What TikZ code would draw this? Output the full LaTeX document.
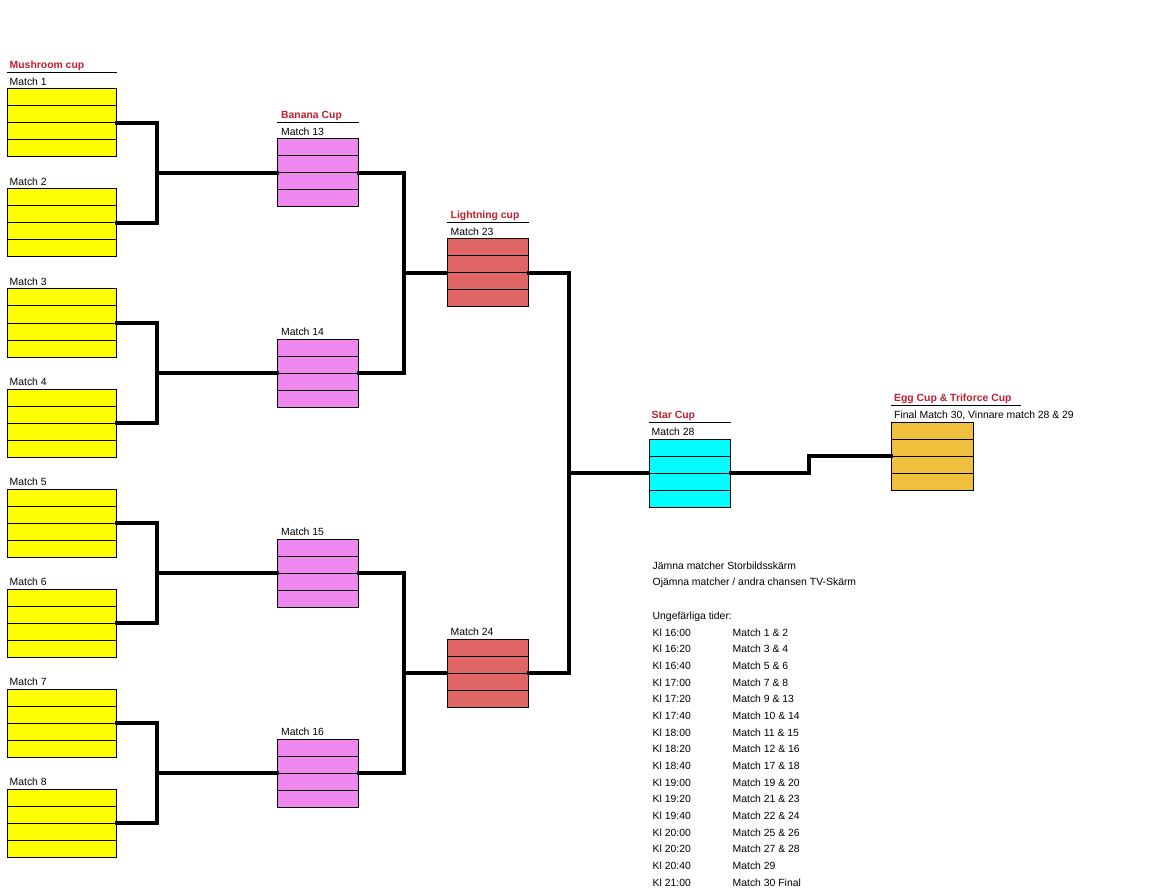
\documentclass[tikz,border=0pt]{standalone}
\usepackage{fontspec}
\setmainfont{Liberation Sans}
\usetikzlibrary{calc}
\definecolor{cupyellow}{HTML}{FFFF00}
\definecolor{cuppink}{HTML}{EE88EE}
\definecolor{cupred}{HTML}{E06666}
\definecolor{cupcyan}{HTML}{00FFFF}
\definecolor{cupgold}{HTML}{F0C03C}
\definecolor{titlered}{HTML}{C41E2E}
\tikzset{
  rows/.style={path picture={
    \foreach \f in {0.25,0.5,0.75}{
      \draw[line width=1pt] ($(path picture bounding box.north west)!\f!(path picture bounding box.south west)$) --
        ($(path picture bounding box.north east)!\f!(path picture bounding box.south east)$);}}},
  matchbox/.style={draw=black, line width=1pt, inner sep=0pt, minimum height=68pt, rows},
  ybox/.style={matchbox, fill=cupyellow, minimum width=109pt},
  pbox/.style={matchbox, fill=cuppink, minimum width=81pt},
  rbox/.style={matchbox, fill=cupred, minimum width=81pt},
  cbox/.style={matchbox, fill=cupcyan, minimum width=81pt},
  gbox/.style={matchbox, fill=cupgold, minimum width=82pt},
  conn/.style={line width=3.6pt, line cap=rect},
  hline/.style={line width=1pt},
  cuptitle/.style={anchor=base west, inner sep=0pt, text=titlered, font=\fontsize{10.4}{12}\selectfont\bfseries},
  mlabel/.style={anchor=base west, inner sep=0pt, font=\fontsize{10.4}{12}\selectfont},
  sched/.style={anchor=base west, inner sep=0pt, font=\fontsize{10.4}{12}\selectfont},
}
\begin{document}
\begin{tikzpicture}[x=1pt,y=-1pt]
\useasboundingbox[fill=white] (0,0) rectangle (1152,896);

% first round (yellow)
\foreach \k in {1,...,8}{
  \node[ybox] (m\k) at (61.5,{123+100*(\k-1)}) {};
  \node[mlabel] (l\k) at ([xshift=3pt,yshift=3pt]m\k.north west) {Match \k};
}
% second round (pink)
\foreach \k/\i in {13/0,14/1,15/2,16/3}{
  \node[pbox] (m\k) at (318,{173+200*\i}) {};
  \node[mlabel] (l\k) at ([xshift=4pt,yshift=3pt]m\k.north west) {Match \k};
}
% third round (red)
\node[rbox] (m23) at (487.5,273) {};
\node[mlabel] (l23) at ([xshift=4pt,yshift=3pt]m23.north west) {Match 23};
\node[rbox] (m24) at (487.5,673) {};
\node[mlabel] (l24) at ([xshift=4pt,yshift=3pt]m24.north west) {Match 24};
% star cup
\node[cbox] (m28) at (689.5,473) {};
\node[mlabel] (l28) at ([xshift=3pt,yshift=3pt]m28.north west) {Match 28};
% final
\node[gbox] (m30) at (932.5,456) {};
\node[mlabel] (l30) at ([xshift=3pt,yshift=3pt]m30.north west) {Final Match 30, Vinnare match 28 \& 29};

% cup headers
\draw[hline] ([yshift=16pt]m1.north west) -- ([yshift=16pt]m1.north east);
\node[cuptitle] (t1) at ([xshift=3pt,yshift=20pt]m1.north west) {Mushroom cup};
\draw[hline] ([yshift=16pt]m13.north west) -- ([yshift=16pt]m13.north east);
\node[cuptitle] (t2) at ([xshift=4pt,yshift=20pt]m13.north west) {Banana Cup};
\draw[hline] ([yshift=16pt]m23.north west) -- ([yshift=16pt]m23.north east);
\node[cuptitle] (t3) at ([xshift=4pt,yshift=20pt]m23.north west) {Lightning cup};
\draw[hline] ([yshift=16pt]m28.north west) -- ([yshift=16pt]m28.north east);
\node[cuptitle] (t4) at ([xshift=3pt,yshift=20pt]m28.north west) {Star Cup};
\draw[hline] ([yshift=16pt]m30.north west) -- ([xshift=47pt,yshift=16pt]m30.north east);
\node[cuptitle] (t5) at ([xshift=3pt,yshift=20pt]m30.north west) {Egg Cup \& Triforce Cup};

% connectors round 1 -> 2
\foreach \a/\b/\c/\y in {1/2/13/173, 3/4/14/373, 5/6/15/573, 7/8/16/773}{
  \coordinate (j\c) at (157,\y);
  \draw[conn] (m\a.east) -| (j\c) |- (m\b.east);
  \draw[conn] (j\c) -- (m\c.west);
}
% round 2 -> 3
\coordinate (j23) at (404,273);
\draw[conn] (m13.east) -| (j23) |- (m14.east);
\draw[conn] (j23) -- (m23.west);
\coordinate (j24) at (404,673);
\draw[conn] (m15.east) -| (j24) |- (m16.east);
\draw[conn] (j24) -- (m24.west);
% round 3 -> star
\coordinate (j28) at (569,473);
\draw[conn] (m23.east) -| (j28) |- (m24.east);
\draw[conn] (j28) -- (m28.west);
% star -> final
\coordinate (s1) at (809,473);
\draw[conn] (m28.east) -- (s1) |- (m30.west);

% schedule
\node[sched] (n1) at (652.5,569) {Jämna matcher Storbildsskärm};
\node[sched] (n2) at (652.5,585.7) {Ojämna matcher / andra chansen TV-Skärm};
\node[sched] (n3) at (652.5,619) {Ungefärliga tider:};
\foreach \t/\m [count=\i from 0] in {16:00/Match 1 \& 2, 16:20/Match 3 \& 4, 16:40/Match 5 \& 6,
  17:00/Match 7 \& 8, 17:20/Match 9 \& 13, 17:40/Match 10 \& 14, 18:00/Match 11 \& 15,
  18:20/Match 12 \& 16, 18:40/Match 17 \& 18, 19:00/Match 19 \& 20, 19:20/Match 21 \& 23,
  19:40/Match 22 \& 24, 20:00/Match 25 \& 26, 20:20/Match 27 \& 28, 20:40/Match 29,
  21:00/Match 30 Final}{
  \node[sched] (k\i) at (652.5,{636+16.67*\i}) {Kl \t};
  \node[sched] (s\i) at (732.5,{636+16.67*\i}) {\m};
}
\end{tikzpicture}
\end{document}
